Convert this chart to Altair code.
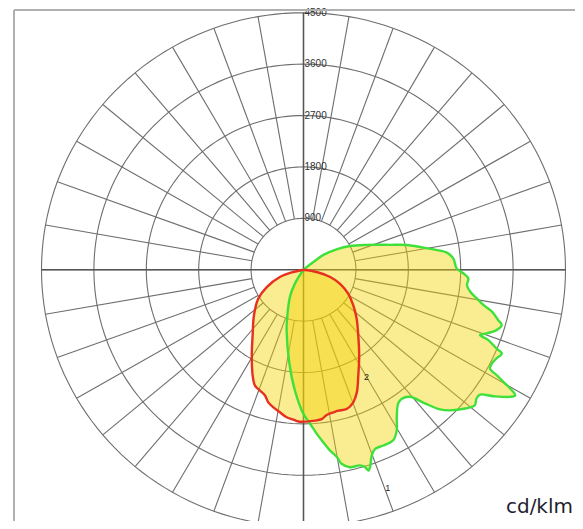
import altair as alt
import pandas as pd

# ---------------- data ----------------
ring_values = [900, 1800, 2700, 3600, 4500]
ring_labels = ["900", "1800", "2700", "3600", "4500"]
spoke_angles = list(range(0, 360, 10))

# curve 1 (green): angle from nadir (deg, + = right), intensity cd/klm
green_angles = [-35, -31.4, -26.1, -17.8, -15.3, -8.4, -4.0, -0.1, 2.4, 4.5,
                6.4, 8.2, 9.9, 10.9, 13.0, 15.8, 17.0, 17.6, 18.3, 19.8,
                21.4, 24.0, 27.3, 29.6, 31.8, 34.8, 36.8, 39.4, 41.7, 43.8,
                45.6, 48.8, 51.1, 52.8, 54.2, 55.8, 57.9, 58.8, 59.3, 60.1,
                60.9, 61.6, 63.1, 64.9, 66.7, 67.4, 68.8, 69.3, 70.5, 72.3,
                74.1, 75.2, 77.2, 78.7, 80.4, 82.3, 84.5, 86.9, 88.7, 90.5,
                94.4, 96.9, 100.1, 103.7, 106.3, 111.8, 117.5, 122.1, 127.2, 128.6,
                130]
green_values = [0, 280, 530, 930, 1100, 1660, 2120, 2520, 2700, 2880,
                3040, 3200, 3330, 3460, 3550, 3560, 3615, 3690, 3640, 3460,
                3370, 3370, 3360, 3240, 3040, 2850, 2820, 2880, 3135, 3390,
                3520, 3690, 3780, 3730, 3740, 3940, 4190, 4250, 4190, 3990,
                3800, 3640, 3630, 3660, 3710, 3590, 3400, 3240, 3340, 3480,
                3540, 3460, 3320, 3150, 3020, 2890, 2820, 2835, 2745, 2630,
                2580, 2480, 2150, 1825, 1550, 1170, 900, 670, 430, 180,
                0]

# curve 2 (red)
red_angles = [-90, -77.0, -72.4, -64.3, -56.8, -46.7, -37.2, -30.6, -25.2, -22.3,
              -19.4, -16.7, -14.6, -12.1, -9.2, -6.4, -3.8, -1.9, 1.2, 4.3,
              6.8, 8.9, 11.6, 13.6, 16.9, 20.2, 23.1, 26.9, 32.5, 39.3,
              46.7, 53.8, 61.3, 68.6, 74.3, 79.9, 90]
red_values = [0, 180, 425, 700, 930, 1170, 1445, 1745, 2050, 2195,
              2245, 2300, 2400, 2465, 2530, 2600, 2630, 2660, 2660, 2650,
              2635, 2575, 2550, 2540, 2550, 2475, 2335, 2080, 1780, 1485,
              1255, 1060, 875, 675, 475, 230, 0]

curve_labels = ["1", "2"]
curve_label_angles = [20.8, 30.0]
curve_label_values = [4080, 2160]

unit_text = "cd/klm"

assert len(green_angles) == len(green_values)
assert len(red_angles) == len(red_values)

# ---------------- layout ----------------
W, H = 567, 513
CX, CY = 295.5, 261.7
RX, RY = 262, 257
R_MAX = ring_values[-1]
R_MIN = ring_values[0]

xs = alt.Scale(domain=[-R_MAX, R_MAX], range=[CX - RX, CX + RX], nice=False, zero=False)
ys = alt.Scale(domain=[-R_MAX, R_MAX], range=[CY + RY, CY - RY], nice=False, zero=False)

FILL = "#F3D300"
GRID = "#6e6e6e"
AXIS = "#555555"

# ---------------- tables ----------------
rings_df = pd.DataFrame([{"ring": r, "t": t} for r in ring_values for t in range(0, 362, 2)])
spokes_df = pd.DataFrame({"a": spoke_angles})
axes_df = pd.DataFrame([
    {"x1": -R_MAX, "y1": 0, "x2": R_MAX, "y2": 0},
    {"x1": 0, "y1": R_MAX, "x2": 0, "y2": -R_MAX},
])
green_df = pd.DataFrame({"idx": range(len(green_angles)), "ang": green_angles, "val": green_values})
red_df = pd.DataFrame({"idx": range(len(red_angles)), "ang": red_angles, "val": red_values})
ringlab_df = pd.DataFrame({"val": ring_values, "lab": ring_labels, "zero": 0})
curvelab_df = pd.DataFrame({"lab": curve_labels, "ang": curve_label_angles, "val": curve_label_values})
one_df = pd.DataFrame({"u": [unit_text]})

polar_x = "datum.val * sin(datum.ang * PI / 180)"
polar_y = "-datum.val * cos(datum.ang * PI / 180)"

def X(f):
    return alt.X(f, type="quantitative", scale=xs, axis=None)

def Y(f):
    return alt.Y(f, type="quantitative", scale=ys, axis=None)

# rings
rings = alt.Chart(rings_df).transform_calculate(
    px="datum.ring * sin(datum.t * PI / 180)",
    py="datum.ring * cos(datum.t * PI / 180)",
).mark_line(color=GRID, strokeWidth=1.1).encode(
    x=X("px"), y=Y("py"), detail="ring:N", order=alt.Order("t:Q")
)

# spokes
spokes = alt.Chart(spokes_df).transform_calculate(
    x1=f"{R_MIN} * sin(datum.a * PI / 180)",
    y1=f"{R_MIN} * cos(datum.a * PI / 180)",
    x2=f"{R_MAX} * sin(datum.a * PI / 180)",
    y2=f"{R_MAX} * cos(datum.a * PI / 180)",
).mark_rule(color=GRID, strokeWidth=1.1).encode(
    x=X("x1"), y=Y("y1"), x2="x2:Q", y2="y2:Q"
)

main_axes = alt.Chart(axes_df).mark_rule(color=AXIS, strokeWidth=1.5).encode(
    x=X("x1"), y=Y("y1"), x2="x2:Q", y2="y2:Q"
)

def curve_fill(df):
    return alt.Chart(df).transform_calculate(px=polar_x, py=polar_y).mark_line(
        fill=FILL, fillOpacity=0.43, strokeOpacity=0, interpolate="catmull-rom"
    ).encode(x=X("px"), y=Y("py"), order=alt.Order("idx:Q"))

def curve_line(df, color):
    return alt.Chart(df).transform_calculate(px=polar_x, py=polar_y).mark_line(
        color=color, strokeWidth=2.4, interpolate="catmull-rom"
    ).encode(x=X("px"), y=Y("py"), order=alt.Order("idx:Q"))

ring_text = alt.Chart(ringlab_df).mark_text(
    align="left", baseline="middle", dx=1, fontSize=10, font="Liberation Sans", color="#333333"
).encode(x=X("zero"), y=Y("val"), text="lab:N")

curve_text = alt.Chart(curvelab_df).transform_calculate(px=polar_x, py=polar_y).mark_text(
    align="center", baseline="middle", fontSize=9, font="Liberation Sans", color="#222222"
).encode(x=X("px"), y=Y("py"), text="lab:N")

frame_left = alt.Chart(one_df).mark_rule(color="#b0b0b0", strokeWidth=2).encode(
    x=alt.value(6), y=alt.value(2), y2=alt.value(H)
)
frame_top = alt.Chart(one_df).mark_rule(color="#b0b0b0", strokeWidth=2).encode(
    x=alt.value(6), x2=alt.value(W), y=alt.value(2)
)

unit = alt.Chart(one_df).mark_text(
    align="right", baseline="alphabetic", fontSize=20, font="DejaVu Sans", color="#1f1f2f"
).encode(x=alt.value(W - 2), y=alt.value(505), text="u:N")

chart = alt.layer(
    rings, spokes, main_axes,
    curve_fill(green_df), curve_fill(red_df),
    curve_line(green_df, "#3FE03A"), curve_line(red_df, "#E8301E"),
    ring_text, curve_text, frame_left, frame_top, unit,
).properties(
    width=W, height=H, padding=0,
    autosize=alt.AutoSizeParams(type="none"),
    background="white",
).configure_view(strokeWidth=0)

chart.save("out.html", embed_options={"renderer": "svg", "actions": False})
